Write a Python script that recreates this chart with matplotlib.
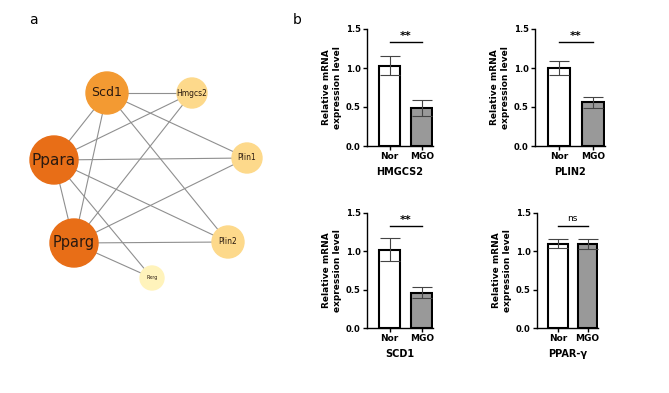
import matplotlib.pyplot as plt
from matplotlib.patches import Circle

# ---- network (panel a) ----
nodes = ['Scd1', 'Hmgcs2', 'Ppara', 'Plin1', 'Pparg', 'Plin2', 'Rxrg']
node_x = [107, 192, 54, 247, 74, 228, 152]
node_y = [93, 93, 160, 158, 243, 242, 278]
node_r = [21, 15, 24, 15, 24, 16, 12]
node_col = ['#F39A32', '#FDD98B', '#E86E17', '#FDD98B', '#E86E17', '#FDD98B', '#FFF3BB']
node_fs = [9, 5.5, 11, 5.5, 10.5, 5.5, 3.5]
edges = [('Scd1', 'Hmgcs2'), ('Scd1', 'Ppara'), ('Scd1', 'Pparg'), ('Scd1', 'Plin1'),
         ('Scd1', 'Plin2'), ('Ppara', 'Hmgcs2'), ('Ppara', 'Plin1'), ('Ppara', 'Pparg'),
         ('Ppara', 'Plin2'), ('Ppara', 'Rxrg'), ('Pparg', 'Hmgcs2'), ('Pparg', 'Plin1'),
         ('Pparg', 'Plin2'), ('Pparg', 'Rxrg')]

# ---- bar data (panel b) ----
groups = ['Nor', 'MGO']
genes = ['HMGCS2', 'PLIN2', 'SCD1', 'PPAR-γ']
means = [[1.03, 0.49], [1.00, 0.56], [1.02, 0.46], [1.10, 1.10]]
sems = [[0.12, 0.10], [0.085, 0.07], [0.15, 0.07], [0.06, 0.065]]
sig = ['**', '**', '**', 'ns']

fig = plt.figure(figsize=(6.69, 3.93), dpi=100)
W, H = 669, 393

axn = fig.add_axes([0, 0, 300 / W, 1])
axn.set_xlim(0, 300)
axn.set_ylim(H, 0)
axn.axis('off')
idx = {n: i for i, n in enumerate(nodes)}
for a, b in edges:
    i, j = idx[a], idx[b]
    axn.plot([node_x[i], node_x[j]], [node_y[i], node_y[j]], color='#8f8f8f', lw=0.8, zorder=1)
for i, n in enumerate(nodes):
    axn.add_patch(Circle((node_x[i], node_y[i]), node_r[i], color=node_col[i], zorder=2))
    axn.text(node_x[i], node_y[i], n, ha='center', va='center', fontsize=node_fs[i],
             color='#2a1a10', zorder=3)

fig.text(33 / W, 1 - 20 / H, 'a', fontsize=10, ha='center', va='center')
fig.text(297 / W, 1 - 20 / H, 'b', fontsize=10, ha='center', va='center')

# axes boxes in pixels: left, top(y of 1.5), width, bottom(y of 0)
boxes = [(367, 29, 66, 146), (535, 29, 70, 146), (367, 213, 66, 328), (537, 213, 61, 328)]
bold = {'fontweight': 'bold'}
for k, (l, t, w, b) in enumerate(boxes):
    ax = fig.add_axes([l / W, 1 - b / H, w / W, (b - t) / H])
    ax.bar([0, 1], means[k], width=0.65, color=['white', '#999999'], edgecolor='black',
           linewidth=1.5, zorder=2)
    ax.errorbar([0, 1], means[k], yerr=sems[k], fmt='none', ecolor='#444444',
                elinewidth=0.8, capsize=7, capthick=0.8, zorder=3)
    ax.set_xlim(-0.7, 1.35)
    ax.set_ylim(0, 1.5)
    ax.set_yticks([0, 0.5, 1.0, 1.5])
    ax.set_yticklabels(['0.0', '0.5', '1.0', '1.5'], fontsize=6, **bold)
    ax.set_xticks([0, 1])
    ax.set_xticklabels(groups, fontsize=6.5, **bold)
    ax.spines['top'].set_visible(False)
    ax.spines['right'].set_visible(False)
    for s in ['left', 'bottom']:
        ax.spines[s].set_linewidth(1.0)
    ax.tick_params(width=1.0, length=3, pad=1.5)
    ax.set_ylabel('Relative mRNA\nexpression level', fontsize=6.5, labelpad=3, **bold)
    ax.set_xlabel(genes[k], fontsize=7, labelpad=4, **bold)
    ax.plot([0, 1], [1.33, 1.33], color='black', lw=1.0, clip_on=False)
    if sig[k] == 'ns':
        ax.text(0.5, 1.37, sig[k], ha='center', va='bottom', fontsize=6.5)
    else:
        ax.text(0.5, 1.34, sig[k], ha='center', va='bottom', fontsize=8, **bold)

fig.savefig('out.png', dpi=100)
